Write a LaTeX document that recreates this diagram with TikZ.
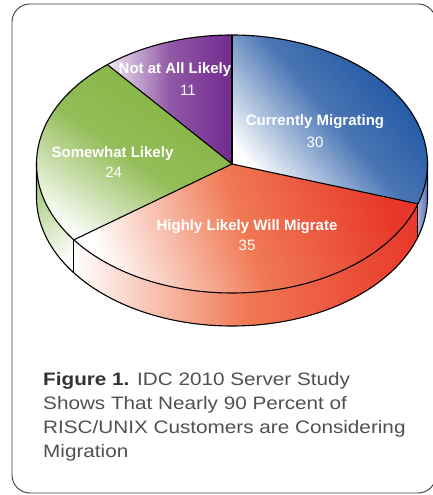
\documentclass[tikz,border=0pt]{standalone}
\usepackage{fontspec}
\setmainfont{Liberation Sans}
\newfontfamily\capfont[FakeStretch=1.15]{Liberation Sans}
\definecolor{bD}{HTML}{174F9F}
\definecolor{bM}{HTML}{5872B8}
\definecolor{rD}{HTML}{E8372A}
\definecolor{rM}{HTML}{F07A55}
\definecolor{gD}{HTML}{84B441}
\definecolor{pD}{HTML}{722A8E}
\definecolor{frameC}{HTML}{3A3A3A}
\definecolor{capC}{HTML}{505050}
\begin{document}
\begin{tikzpicture}[x=1pt,y=1pt,
  lbl/.style={text=white, font=\fontsize{15}{15}\selectfont\bfseries, inner sep=0pt, anchor=base},
  num/.style={text=white, font=\fontsize{15}{15}\selectfont, inner sep=0pt, anchor=base},
  captxt/.style={text=capC, font=\capfont\fontsize{18}{18}\selectfont, inner sep=0pt, anchor=base west},
  slicedge/.style={draw=black, line width=1.1pt, line join=round},
  elr/.style={x radius=195.5pt, y radius=129pt}]
\useasboundingbox (0,0) rectangle (432,495);
% frame
\draw[frameC, line width=0.9pt, rounded corners=18pt] (12,2) rectangle (436,491);
\begin{scope}[shift={(232,331)}]
% side walls
\path[bottom color=white, top color=gD!75!white, shading angle=30]
  (180:195.5pt and 129pt) arc[start angle=180, end angle=216, elr] -- ++(0,-33)
  arc[start angle=216, end angle=180, elr] -- cycle;
\path[bottom color=white, top color=rD, middle color=rM, shading angle=-90]
  (-144:195.5pt and 129pt) arc[start angle=-144, end angle=-18, elr] -- ++(0,-33)
  arc[start angle=-18, end angle=-144, elr] -- cycle;
\path[bottom color=bM!55!white, top color=bM, shading angle=-90]
  (-18:195.5pt and 129pt) arc[start angle=-18, end angle=0, elr] -- ++(0,-33)
  arc[start angle=0, end angle=-18, elr] -- cycle;
% top slices
\path[bottom color=white, top color=bD, middle color=bD!78!white, shading angle=-50]
  (0,0) -- (90:195.5pt and 129pt) arc[start angle=90, end angle=-18, elr] -- cycle;
\path[bottom color=white, top color=rD, middle color=rM, shading angle=-70]
  (0,0) -- (-18:195.5pt and 129pt) arc[start angle=-18, end angle=-144, elr] -- cycle;
\path[bottom color=white, top color=gD, middle color=gD!88!white, shading angle=-35]
  (0,0) -- (-144:195.5pt and 129pt) arc[start angle=-144, end angle=-230.4, elr] -- cycle;
\path[bottom color=pD!10!white, top color=pD, middle color=pD!78!white, shading angle=-90]
  (0,0) -- (129.6:195.5pt and 129pt) arc[start angle=129.6, end angle=90, elr] -- cycle;
% outlines
\draw[slicedge] (0,0) ellipse[elr];
\draw[slicedge] (0,0) -- (90:195.5pt and 129pt);
\draw[slicedge] (0,0) -- (-18:195.5pt and 129pt);
\draw[slicedge] (0,0) -- (-144:195.5pt and 129pt);
\draw[slicedge] (0,0) -- (129.6:195.5pt and 129pt);
\draw[slicedge] (180:195.5pt and 129pt) -- ++(0,-33) arc[start angle=180, end angle=360, elr] -- ++(0,33);
\draw[slicedge] (-144:195.5pt and 129pt) -- ++(0,-33);
\draw[slicedge] (-18:195.5pt and 129pt) -- ++(0,-33);
\end{scope}
% labels
\node[lbl] (l1) at (315,369) {Currently Migrating};
\node[num] (n1) at (315,347) {30};
\node[lbl] (l2) at (175,421.7) {Not at All Likely};
\node[num] (n2) at (188,399) {11};
\node[lbl] (l3) at (112.5,337) {Somewhat Likely};
\node[num] (n3) at (113.7,317) {24};
\node[lbl] (l4) at (247,264) {Highly Likely Will Migrate};
\node[num] (n4) at (247,244) {35};
% caption
\node[captxt] (c1) at (43,109) {{\color{black!80}\bfseries Figure 1.} IDC 2010 Server Study};
\node[captxt] (c2) at (43,85) {Shows That Nearly 90 Percent of};
\node[captxt] (c3) at (43,61.5) {RISC/UNIX Customers are Considering};
\node[captxt] (c4) at (43,37) {Migration};
\end{tikzpicture}
\end{document}
